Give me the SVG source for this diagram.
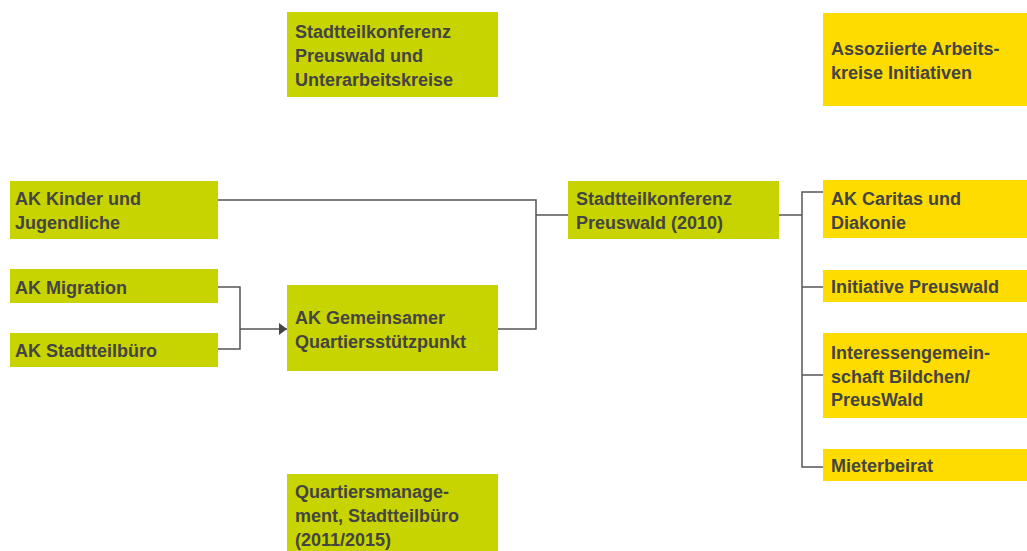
<svg xmlns="http://www.w3.org/2000/svg" width="1027" height="551" viewBox="0 0 1027 551">
<style>
.g{fill:#c8d400}
.y{fill:#ffdc00}
text{font-family:"Liberation Sans",Arial,sans-serif;font-weight:bold;font-size:18px;fill:#444}
.c{fill:none;stroke:#555;stroke-width:1.5}
</style>
<defs>
<marker id="ah" markerWidth="8" markerHeight="12" refX="8" refY="6" orient="auto" markerUnits="userSpaceOnUse">
<path d="M0,0 L8,6 L0,12 Z" fill="#444"/>
</marker>
</defs>
<rect width="1027" height="551" fill="#fff"/>
<g id="connectors">
<path class="c" d="M218,200 H536 V329 H498"/>
<path class="c" d="M536,215 H568"/>
<path class="c" d="M218,287 H240 V349 H218"/>
<path class="c" d="M240,329 H287" marker-end="url(#ah)"/>
<path class="c" d="M779,215 H802"/>
<path class="c" d="M823,192 H802 V467 H823"/>
<path class="c" d="M802,287 H823"/>
<path class="c" d="M802,375 H823"/>
</g>
<g id="n-stk-unter"><rect class="g" x="287" y="12" width="211" height="85"/><text x="295" y="38">Stadtteilkonferenz</text><text x="295" y="62">Preuswald und</text><text x="295" y="86">Unterarbeitskreise</text></g>
<g id="n-assoz"><rect class="y" x="823" y="13" width="204" height="93"/><text x="831" y="55">Assoziierte Arbeits-</text><text x="831" y="79">kreise Initiativen</text></g>
<g id="n-kinder"><rect class="g" x="10" y="181" width="208" height="58"/><text x="15" y="205">AK Kinder und</text><text x="15" y="229">Jugendliche</text></g>
<g id="n-migration"><rect class="g" x="10" y="269" width="208" height="34"/><text x="15" y="294">AK Migration</text></g>
<g id="n-stadtteilbuero"><rect class="g" x="10" y="333" width="208" height="34"/><text x="15" y="357">AK Stadtteilbüro</text></g>
<g id="n-gemeinsam"><rect class="g" x="287" y="285" width="211" height="86"/><text x="295" y="324">AK Gemeinsamer</text><text x="295" y="348">Quartiersstützpunkt</text></g>
<g id="n-stk2010"><rect class="g" x="568" y="181" width="211" height="58"/><text x="576" y="205">Stadtteilkonferenz</text><text x="576" y="229">Preuswald (2010)</text></g>
<g id="n-caritas"><rect class="y" x="823" y="180" width="204" height="58"/><text x="831" y="205">AK Caritas und</text><text x="831" y="229">Diakonie</text></g>
<g id="n-initiative"><rect class="y" x="823" y="270" width="204" height="32"/><text x="831" y="293">Initiative Preuswald</text></g>
<g id="n-ig"><rect class="y" x="823" y="333" width="204" height="85"/><text x="831" y="359">Interessengemein-</text><text x="831" y="383">schaft Bildchen/</text><text x="831" y="406">PreusWald</text></g>
<g id="n-mieter"><rect class="y" x="823" y="449" width="204" height="32"/><text x="831" y="472">Mieterbeirat</text></g>
<g id="n-qm"><rect class="g" x="287" y="474" width="211" height="77"/><text x="295" y="498">Quartiersmanage-</text><text x="295" y="522">ment, Stadtteilbüro</text><text x="295" y="546">(2011/2015)</text></g>
</svg>
